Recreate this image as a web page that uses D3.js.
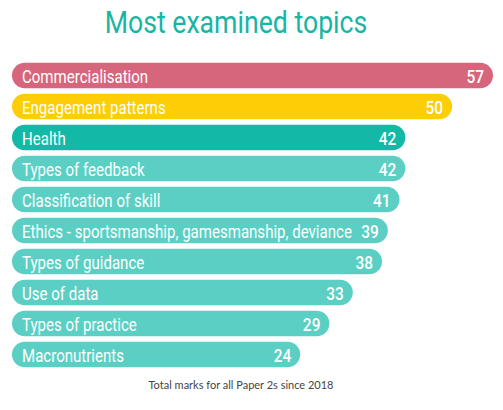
<!DOCTYPE html>
<html>
<head>
<meta charset="utf-8">
<script src="https://cdnjs.cloudflare.com/ajax/libs/d3/7.8.5/d3.min.js"></script>
<style>
  body { margin: 0; background: #fff; }
  .chart text { font-family: Roboto, "Noto Sans", sans-serif; }
</style>
</head>
<body>
<div class="chart"></div>
<script>
var topics = ["Commercialisation", "Engagement patterns", "Health", "Types of feedback",
              "Classification of skill", "Ethics - sportsmanship, gamesmanship, deviance",
              "Types of guidance", "Use of data", "Types of practice", "Macronutrients"],
    marks = [57, 50, 42, 42, 41, 39, 38, 33, 29, 24];

var title = "Most examined topics",
    footnote = "Total marks for all Paper 2s since 2018";

var width = 503,
    height = 410,
    barLeft = 12,
    squeeze = 0.86; // narrow the glyphs, the original uses a condensed face

var svg = d3.select(".chart").append("svg")
  .attr("width", width)
  .attr("height", height);

// bars start left of the zero point so the long labels fit inside them
const x = d3.scaleLinear()
  .domain([0, d3.max(marks)])
  .range([160, 493]);

const y = d3.scaleBand()
  .domain(topics)
  .range([60, 370])
  .paddingInner(0.18)
  .paddingOuter(0.09);

const color = d3.scaleOrdinal()
  .domain(topics.slice(0, 3))
  .range(["#d6667c", "#fdcd05", "#13b8a6"])
  .unknown("#5bcfc3");

var data = topics.map((t, i) => ({ topic: t, value: marks[i] }));

svg.append("text")
  .attr("transform", `translate(236, 33) scale(${squeeze}, 1)`)
  .attr("text-anchor", "middle")
  .attr("fill", "#17b5a3")
  .style("font-size", "31px")
  .text(title);

var row = svg.append("g")
  .selectAll("g")
  .data(data)
  .enter().append("g")
  .attr("transform", d => `translate(0, ${y(d.topic)})`);

row.append("rect")
  .attr("x", barLeft)
  .attr("width", d => x(d.value) - barLeft)
  .attr("height", y.bandwidth())
  .attr("rx", y.bandwidth() / 2)
  .attr("fill", d => color(d.topic));

row.append("text")
  .attr("transform", `translate(${barLeft + 10}, ${y.bandwidth() / 2}) scale(${squeeze}, 1)`)
  .attr("dy", "0.4em")
  .attr("fill", "#fff")
  .style("font-size", "17.5px")
  .text(d => d.topic);

row.append("text")
  .attr("transform", d => `translate(${x(d.value) - 9}, ${y.bandwidth() / 2}) scale(${squeeze}, 1)`)
  .attr("dy", "0.4em")
  .attr("text-anchor", "end")
  .attr("fill", "#fff")
  .style("font-size", "18px")
  .style("font-weight", "500")
  .text(d => d.value);

svg.append("text")
  .attr("x", 241)
  .attr("y", 389)
  .attr("text-anchor", "middle")
  .attr("fill", "#444")
  .style("font-family", "Lato, sans-serif")
  .style("font-size", "11px")
  .text(footnote);
</script>
</body>
</html>
